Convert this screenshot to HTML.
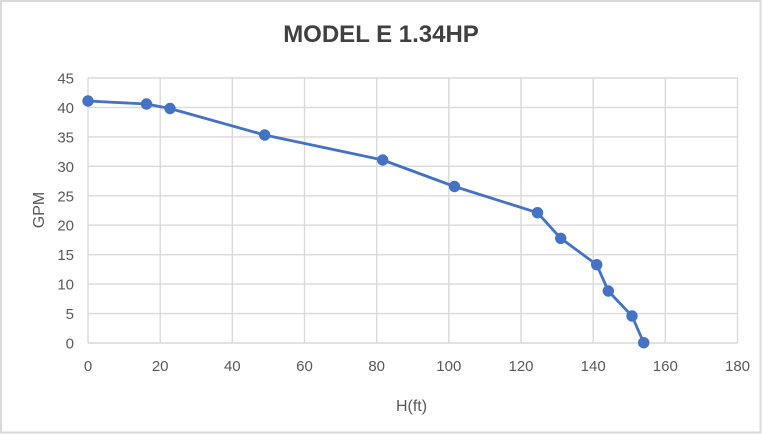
<!DOCTYPE html>
<html><head><meta charset="utf-8"><style>
html,body{margin:0;padding:0;background:#fff;}
svg{display:block;}
text{font-family:"Liberation Sans",sans-serif;}
</style></head><body>
<svg width="762" height="434" viewBox="0 0 762 434" xmlns="http://www.w3.org/2000/svg">
<rect x="1" y="1" width="759.5" height="431.5" fill="#fff" stroke="#d9d9d9" stroke-width="2"/>
<text x="381" y="42" text-anchor="middle" font-size="24" font-weight="bold" fill="#404040">MODEL E 1.34HP</text>
<g stroke="#d9d9d9" stroke-width="1.4" fill="none">
<line x1="88" y1="78" x2="737.5" y2="78"/>
<line x1="88" y1="107.4" x2="737.5" y2="107.4"/>
<line x1="88" y1="136.9" x2="737.5" y2="136.9"/>
<line x1="88" y1="166.3" x2="737.5" y2="166.3"/>
<line x1="88" y1="195.8" x2="737.5" y2="195.8"/>
<line x1="88" y1="225.2" x2="737.5" y2="225.2"/>
<line x1="88" y1="254.7" x2="737.5" y2="254.7"/>
<line x1="88" y1="284.1" x2="737.5" y2="284.1"/>
<line x1="88" y1="313.6" x2="737.5" y2="313.6"/>
<line x1="88" y1="343" x2="737.5" y2="343"/>
<line x1="88" y1="78" x2="88" y2="343"/>
<line x1="160.2" y1="78" x2="160.2" y2="343"/>
<line x1="232.3" y1="78" x2="232.3" y2="343"/>
<line x1="304.5" y1="78" x2="304.5" y2="343"/>
<line x1="376.7" y1="78" x2="376.7" y2="343"/>
<line x1="448.8" y1="78" x2="448.8" y2="343"/>
<line x1="521" y1="78" x2="521" y2="343"/>
<line x1="593.2" y1="78" x2="593.2" y2="343"/>
<line x1="665.3" y1="78" x2="665.3" y2="343"/>
<line x1="737.5" y1="78" x2="737.5" y2="343"/>
</g>
<g font-size="15" fill="#595959" text-anchor="end">
<text x="74" y="83.5">45</text>
<text x="74" y="112.9">40</text>
<text x="74" y="142.4">35</text>
<text x="74" y="171.8">30</text>
<text x="74" y="201.3">25</text>
<text x="74" y="230.7">20</text>
<text x="74" y="260.2">15</text>
<text x="74" y="289.6">10</text>
<text x="74" y="319.1">5</text>
<text x="74" y="348.5">0</text>
</g>
<g font-size="15" fill="#595959" text-anchor="middle">
<text x="88" y="371">0</text>
<text x="160.2" y="371">20</text>
<text x="232.3" y="371">40</text>
<text x="304.5" y="371">60</text>
<text x="376.7" y="371">80</text>
<text x="448.8" y="371">100</text>
<text x="521" y="371">120</text>
<text x="593.2" y="371">140</text>
<text x="665.3" y="371">160</text>
<text x="737.5" y="371">180</text>
</g>
<text x="411.5" y="411" font-size="16" fill="#595959" text-anchor="middle">H(ft)</text>
<text transform="translate(44,210) rotate(-90)" font-size="16" fill="#595959" text-anchor="middle">GPM</text>
<polyline fill="none" stroke="#4472c4" stroke-width="2.8" stroke-linejoin="round" points="88,101 146.5,104 170,108.5 264.7,135 382.7,160 454.5,186.5 537.5,212.7 560.7,238.3 596.7,264.7 608.3,291 632,316 643.7,342.7"/>
<g fill="#4472c4">
<circle cx="88" cy="101" r="5.7"/>
<circle cx="146.5" cy="104" r="5.7"/>
<circle cx="170" cy="108.5" r="5.7"/>
<circle cx="264.7" cy="135" r="5.7"/>
<circle cx="382.7" cy="160" r="5.7"/>
<circle cx="454.5" cy="186.5" r="5.7"/>
<circle cx="537.5" cy="212.7" r="5.7"/>
<circle cx="560.7" cy="238.3" r="5.7"/>
<circle cx="596.7" cy="264.7" r="5.7"/>
<circle cx="608.3" cy="291" r="5.7"/>
<circle cx="632" cy="316" r="5.7"/>
<circle cx="643.7" cy="342.7" r="5.7"/>
</g>
</svg>
</body></html>
